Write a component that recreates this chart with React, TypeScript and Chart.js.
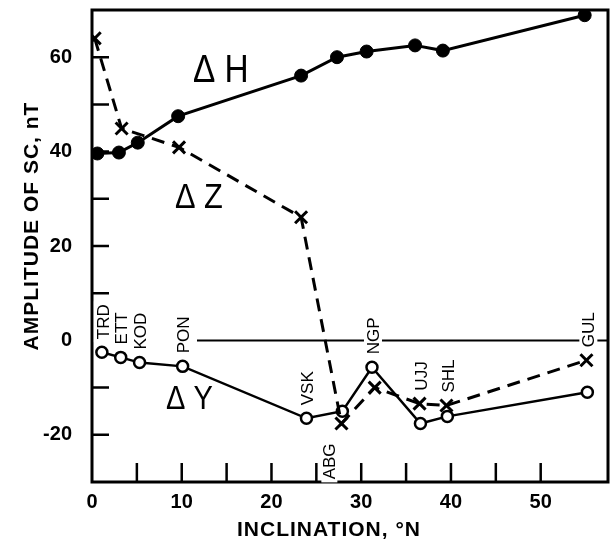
import React, { useEffect, useRef } from 'react';
import { Chart, registerables } from 'chart.js';

Chart.register(...registerables);

// ---- data ----
const STATIONS = ['TRD', 'ETT', 'KOD', 'PON', 'VSK', 'ABG', 'NGP', 'UJJ', 'SHL', 'GUL'];

// ΔY (open circles, solid line)
const DY_INCL = [1.1, 3.2, 5.3, 10.1, 23.9, 27.9, 31.2, 36.6, 39.6, 55.2];
const DY_VALUES = [-2.5, -3.6, -4.7, -5.5, -16.5, -15.0, -5.7, -17.6, -16.1, -11.0];

// ΔH (filled circles, solid line)
const DH_INCL = [0.6, 3.0, 5.1, 9.6, 23.3, 27.3, 30.6, 36.0, 39.1, 54.9];
const DH_VALUES = [39.6, 39.8, 41.9, 47.5, 56.1, 60.0, 61.2, 62.5, 61.4, 68.9];

// ΔZ (crosses, dashed line)
const DZ_STATIONS = ['TRD', 'ETT', 'PON', 'VSK', 'ABG', 'NGP', 'UJJ', 'SHL', 'GUL'];
const DZ_INCL = [0.3, 3.3, 9.7, 23.3, 27.8, 31.5, 36.5, 39.5, 55.1];
const DZ_VALUES = [64.0, 44.9, 40.9, 26.1, -17.6, -10.0, -13.4, -13.8, -4.2];

// axes
const X_MIN = 0;
const X_MAX = 57.5;
const Y_MIN = -30;
const Y_MAX = 70;
const X_TICK_LABELS = [0, 10, 20, 30, 40, 50];
const X_MINOR_TICKS = [5, 10, 15, 20, 25, 30, 35, 40, 45, 50];
const Y_TICK_LABELS = [-20, 0, 20, 40, 60];
const Y_MINOR_TICKS = [-20, -10, 10, 20, 30, 40, 50, 60];

const X_TITLE = 'INCLINATION, \u00B0N';
const Y_TITLE = 'AMPLITUDE OF SC, nT';

// series name annotations (in data units: left, baseline)
const SERIES_NAMES = ['\u0394 H', '\u0394 Z', '\u0394 Y'];
const SERIES_NAME_X = [11.25, 9.24, 8.24];
const SERIES_NAME_Y = [54.7, 28.0, -14.6];
const SERIES_NAME_SIZE = [38, 35, 33];

const LABEL_BELOW = ['ABG'];
const ZERO_LINE_FROM = 11.7;

const FAMILY = '"Liberation Sans", Arial, Helvetica, sans-serif';

const pts = (xs: number[], ys: number[]) => xs.map((x, i) => ({ x, y: ys[i] }));

const decor = {
  id: 'decor',
  beforeDatasetsDraw(chart: any) {
    const ctx = chart.ctx as CanvasRenderingContext2D;
    const { left, right, top, bottom } = chart.chartArea;
    const xs = chart.scales.x;
    const ys = chart.scales.y;
    ctx.save();
    ctx.strokeStyle = '#000';
    ctx.fillStyle = '#000';
    ctx.lineCap = 'butt';

    // frame
    ctx.lineWidth = 3;
    ctx.strokeRect(left, top, right - left, bottom - top);

    // inward tick marks
    ctx.lineWidth = 2.5;
    ctx.beginPath();
    for (const v of Y_MINOR_TICKS) {
      const py = ys.getPixelForValue(v);
      ctx.moveTo(left, py);
      ctx.lineTo(left + 17, py);
    }
    for (const v of X_MINOR_TICKS) {
      const px = xs.getPixelForValue(v);
      ctx.moveTo(px, bottom);
      ctx.lineTo(px, bottom - 19);
    }
    ctx.stroke();

    // zero line
    const y0 = ys.getPixelForValue(0);
    ctx.lineWidth = 2;
    ctx.beginPath();
    ctx.moveTo(xs.getPixelForValue(ZERO_LINE_FROM), y0);
    ctx.lineTo(right, y0);
    ctx.stroke();

    // station labels (rotated)
    ctx.font = `17px ${FAMILY}`;
    STATIONS.forEach((name, i) => {
      const yv = DY_VALUES[i];
      const zi = DZ_STATIONS.indexOf(name);
      const zv = zi >= 0 ? DZ_VALUES[zi] : null;
      const px = xs.getPixelForValue(DY_INCL[i]);
      const below = LABEL_BELOW.includes(name);
      let anchorVal = yv;
      if (zv !== null && Math.abs(zv - yv) < 10) {
        anchorVal = below ? Math.min(yv, zv) : Math.max(yv, zv);
      }
      const ap = ys.getPixelForValue(anchorVal);
      const w = ctx.measureText(name).width;
      ctx.save();
      if (below) {
        ctx.translate(px - 13, ap + 20);
        ctx.rotate(-Math.PI / 2);
        ctx.textAlign = 'right';
        ctx.textBaseline = 'middle';
        ctx.fillStyle = '#fff';
        ctx.fillRect(-w - 3, -8, w + 6, 16);
      } else {
        ctx.translate(px + 1, ap - 13);
        ctx.rotate(-Math.PI / 2);
        ctx.textAlign = 'left';
        ctx.textBaseline = 'middle';
        ctx.fillStyle = '#fff';
        ctx.fillRect(-3, -9, w + 6, 18);
      }
      ctx.fillStyle = '#000';
      ctx.fillText(name, 0, 1);
      ctx.restore();
    });

    // series names
    SERIES_NAMES.forEach((t, i) => {
      ctx.save();
      ctx.font = `${SERIES_NAME_SIZE[i]}px ${FAMILY}`;
      ctx.textAlign = 'left';
      ctx.textBaseline = 'alphabetic';
      ctx.translate(xs.getPixelForValue(SERIES_NAME_X[i]), ys.getPixelForValue(SERIES_NAME_Y[i]));
      ctx.scale(0.88, 1);
      ctx.fillStyle = '#000';
      ctx.fillText(t, 0, 0);
      ctx.restore();
    });

    // axis titles
    ctx.font = `bold 21px ${FAMILY}`;
    (ctx as any).letterSpacing = '1px';
    ctx.fillStyle = '#000';
    ctx.textAlign = 'center';
    ctx.textBaseline = 'middle';
    ctx.fillText(X_TITLE, 329, bottom + 48);
    ctx.save();
    ctx.translate(left - 60, (top + bottom) / 2 - 20);
    ctx.rotate(-Math.PI / 2);
    ctx.fillText(Y_TITLE, 0, 0);
    ctx.restore();
    (ctx as any).letterSpacing = '0px';

    ctx.restore();
  },
};

const zeroPad = (s: any) => {
  s.paddingTop = 0;
  s.paddingBottom = 0;
  s.paddingLeft = 0;
  s.paddingRight = 0;
};

export default function App() {
  const ref = useRef<HTMLCanvasElement | null>(null);

  useEffect(() => {
    if (!ref.current) return;
    const tickFont = { family: FAMILY, size: 20, weight: 'bold' as const };
    const chart = new Chart(ref.current, {
      type: 'line',
      data: {
        datasets: [
          {
            label: '\u0394H',
            data: pts(DH_INCL, DH_VALUES),
            borderColor: '#000',
            backgroundColor: '#000',
            borderWidth: 3,
            pointStyle: 'circle',
            pointRadius: 6.5,
            pointBackgroundColor: '#000',
            pointBorderColor: '#000',
            pointBorderWidth: 1,
            tension: 0,
          },
          {
            label: '\u0394Z',
            data: pts(DZ_INCL, DZ_VALUES),
            borderColor: '#000',
            backgroundColor: '#000',
            borderWidth: 3,
            borderDash: [13, 8],
            pointStyle: 'crossRot',
            pointRadius: 8.5,
            pointBorderColor: '#000',
            pointBorderWidth: 3,
            tension: 0,
          },
          {
            label: '\u0394Y',
            data: pts(DY_INCL, DY_VALUES),
            borderColor: '#000',
            backgroundColor: '#fff',
            borderWidth: 2.5,
            pointStyle: 'circle',
            pointRadius: 5.5,
            pointBackgroundColor: '#fff',
            pointBorderColor: '#000',
            pointBorderWidth: 2.5,
            tension: 0,
          },
        ],
      },
      options: {
        animation: false,
        responsive: false,
        devicePixelRatio: 1,
        layout: { padding: { top: 10, right: 5, left: 0, bottom: 0 }, autoPadding: false },
        plugins: { legend: { display: false }, tooltip: { enabled: false } },
        elements: { line: { fill: false } },
        scales: {
          x: {
            type: 'linear',
            min: X_MIN,
            max: X_MAX,
            grid: { display: false, drawTicks: false },
            border: { display: false },
            ticks: {
              autoSkip: false,
              maxRotation: 0,
              padding: 8,
              color: '#000',
              font: tickFont,
            },
            afterBuildTicks: (s: any) => {
              s.ticks = X_TICK_LABELS.map((v) => ({ value: v }));
            },
            afterFit: (s: any) => {
              s.height = 62;
              zeroPad(s);
            },
          },
          y: {
            type: 'linear',
            min: Y_MIN,
            max: Y_MAX,
            grid: { display: false, drawTicks: false },
            border: { display: false },
            ticks: {
              autoSkip: false,
              padding: 20,
              color: '#000',
              font: tickFont,
            },
            afterBuildTicks: (s: any) => {
              s.ticks = Y_TICK_LABELS.map((v) => ({ value: v }));
            },
            afterFit: (s: any) => {
              s.width = 92;
              zeroPad(s);
            },
          },
        },
      },
      plugins: [decor],
    });
    return () => chart.destroy();
  }, []);

  return (
    <div style={{ position: 'absolute', left: 0, top: 0, width: 613, height: 544, background: '#fff' }}>
      <canvas ref={ref} width={613} height={544} style={{ display: 'block' }} />
    </div>
  );
}
